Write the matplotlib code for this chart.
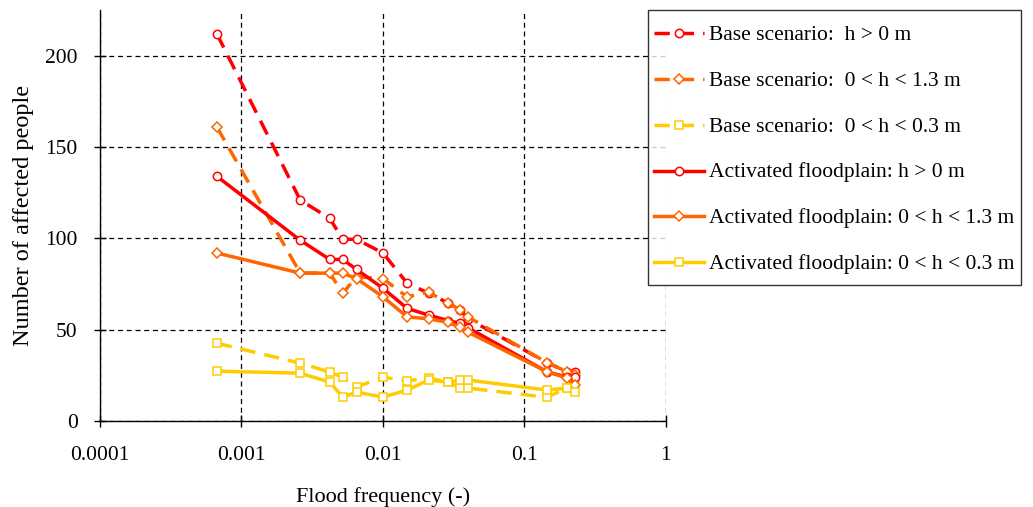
import matplotlib
matplotlib.use("Agg")
import matplotlib.pyplot as plt
from matplotlib.ticker import FixedLocator, FixedFormatter

# flood frequency (-) for each scenario point
freq = [0.00067, 0.0026, 0.0042, 0.0052, 0.0065, 0.010, 0.0148, 0.021,
        0.029, 0.035, 0.040, 0.144, 0.20, 0.227]

base_h0 = [212, 121, 111, 99.5, 99.5, 92, 75.5, 70, 64.5, 61, 56, 32, 27, 27]
base_h13 = [161, 81, 81, 70, 79, 78, 68, 70.5, 64.5, 61, 57, 32, 27, 25]
base_h03 = [42.6, 31.7, 26.8, 24, 18.6, 24, 22, 23.5, 21.3, 18, 18, 13, 18, 23.5]
act_h0 = [134, 99, 88.5, 88.5, 83, 72.7, 61.7, 58, 55, 53.5, 51, 27, 24, 24]
act_h13 = [92, 81, 81, 81, 78, 68, 57, 56, 54, 51.4, 48.6, 27, 23.5, 19.7]
act_h03 = [27.3, 26.2, 21.3, 13.1, 15.8, 13.1, 16.9, 22.4, 21.3, 22.4, 22.4, 17, 18, 16]

labels = ["Base scenario:  h > 0 m",
          "Base scenario:  0 < h < 1.3 m",
          "Base scenario:  0 < h < 0.3 m",
          "Activated floodplain: h > 0 m",
          "Activated floodplain: 0 < h < 1.3 m",
          "Activated floodplain: 0 < h < 0.3 m"]

red = "#FF0000"
orange = "#FF6600"
yellow = "#FFCC00"

plt.rcParams['font.family'] = ['Liberation Serif', 'DejaVu Serif']
plt.rcParams['font.size'] = 15.5

fig = plt.figure(figsize=(10.33, 5.07), dpi=100)
ax = fig.add_axes([0.0968, 0.1696, 0.5479, 0.8104])

dashed = (0, (4.4, 2.6))
series = [
    (base_h0, red, 'o', dashed),
    (base_h13, orange, 'D', dashed),
    (base_h03, yellow, 's', dashed),
    (act_h0, red, 'o', '-'),
    (act_h13, orange, 'D', '-'),
    (act_h03, yellow, 's', '-'),
]
for (vals, col, mk, ls), lab in zip(series, labels):
    ms = 5.5 if mk == 'D' else 6
    ax.plot(freq, vals, color=col, linestyle=ls, linewidth=2.5, marker=mk,
            markersize=ms, markerfacecolor='white', markeredgecolor=col,
            markeredgewidth=1.1, label=lab, zorder=3)

ax.set_xscale('log')
ax.set_xlim(0.0001, 1)
ax.set_ylim(0, 225)
ax.xaxis.set_major_locator(FixedLocator([0.0001, 0.001, 0.01, 0.1, 1]))
ax.xaxis.set_major_formatter(FixedFormatter(["0.0001", "0.001", "0.01", "0.1", "1"]))
ax.xaxis.set_minor_locator(FixedLocator([]))
ax.set_yticks([0, 50, 100, 150, 200])

ax.grid(True, color='black', linestyle=(0, (4, 3)), linewidth=0.9)
ax.set_axisbelow(True)
for s in ['top', 'right']:
    ax.spines[s].set_visible(False)
ax.spines['left'].set_linewidth(1.0)
ax.spines['bottom'].set_linewidth(1.0)
ax.tick_params(direction='inout', length=8, width=1, labelsize=15.5)
ax.tick_params(axis='y', pad=12)
ax.tick_params(axis='x', pad=14)

ax.set_xlabel("Flood frequency (-)", fontsize=16, labelpad=16)
ax.set_ylabel("Number of affected people", fontsize=17.5, labelpad=8)

leg = fig.legend(loc='upper left', bbox_to_anchor=(0.627, 0.980), borderaxespad=0,
                 fontsize=15.5, handlelength=2.3, handleheight=2.0, handletextpad=0.23,
                 labelspacing=0.58, frameon=True, fancybox=False, edgecolor='black',
                 borderpad=0.3)
leg.get_frame().set_linewidth(1.0)
# centre the handle lines on the text rows
for h in leg.legend_handles:
    h.set_ydata([v - 3.6 for v in h.get_ydata()])

fig.savefig("out.png", dpi=100)
